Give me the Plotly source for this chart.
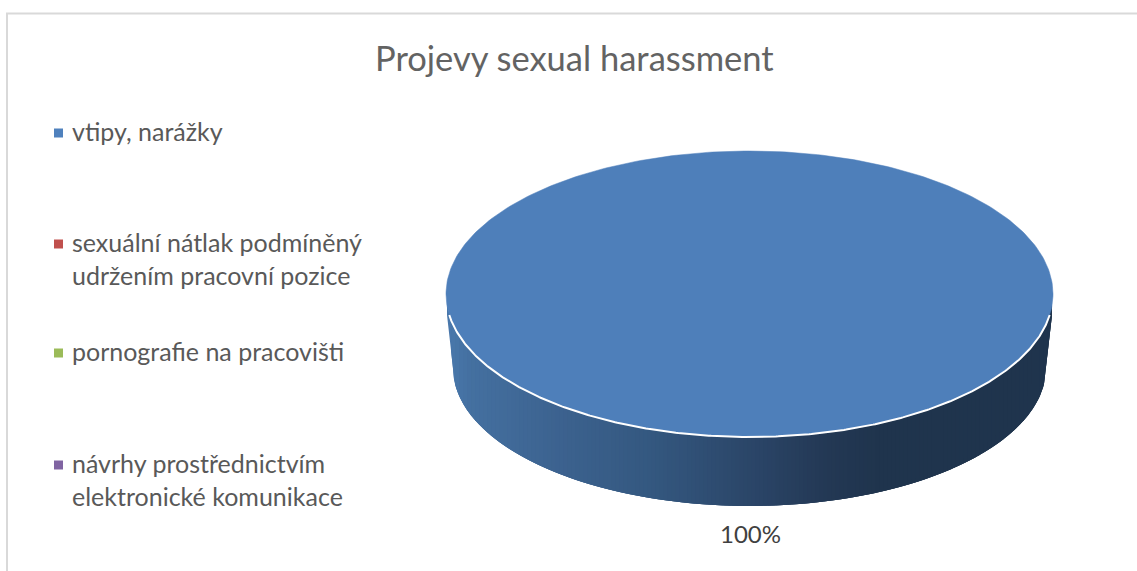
import numpy as np
import plotly.graph_objects as go

# Chart data
title = "Projevy sexual harassment"
categories = ["vtipy, narážky",
              "sexuální nátlak podmíněný<br>udržením pracovní pozice",
              "pornografie na pracovišti",
              "návrhy prostřednictvím<br>elektronické komunikace"]
values = [100, 0, 0, 0]
colors = ["#4e7fba", "#c0504d", "#9bbb59", "#8064a2"]

# Drawing geometry, in canvas pixels
W, H = 1137, 571
TOP = dict(cx=749.5, cy=294.0, rx=303.5, ry=143.0)
BASE = dict(cx=749.5, cy=368.0, rx=296.5, ry=138.0)
RIM_Y = 315.0
LEGEND_Y = [133, 244, 353, 465]
FONT = "Lato"

# Side wall shading: horizontal position -> colour
WALL_X = [447, 470, 560, 650, 760, 830, 880, 1053]
WALL_RGB = [(74, 120, 172), (68, 112, 160), (60, 98, 143), (52, 88, 128),
            (42, 68, 102), (35, 56, 84), (31, 52, 77), (31, 52, 77)]

total = sum(values)
shares = [v / total for v in values]


def ellipse_y(e, x):
    return e["cy"] + e["ry"] * np.sqrt(np.clip(1 - ((x - e["cx"]) / e["rx"]) ** 2, 0, 1))


def lower_edge(x):
    # Base outline, closing onto the rim with straight sides at both ends
    left, right = BASE["cx"] - BASE["rx"], BASE["cx"] + BASE["rx"]
    xl, xr = TOP["cx"] - TOP["rx"] + 1, TOP["cx"] + TOP["rx"] - 1
    if x < left:
        return RIM_Y + (BASE["cy"] - RIM_Y) * (x - xl) / (left - xl)
    if x > right:
        return RIM_Y + (BASE["cy"] - RIM_Y) * (xr - x) / (xr - right)
    return float(ellipse_y(BASE, x))


fig = go.Figure()

# Side wall of the disc: strips painted left to right, each one overlapping
# the start of the next so that no seams show between them
wall_left, wall_right = TOP["cx"] - TOP["rx"] + 1, TOP["cx"] + TOP["rx"] - 1
edges = np.linspace(wall_left, wall_right, 152)
for a, b in zip(edges[:-1], edges[1:]):
    rgb = [float(np.interp((a + b) / 2, WALL_X, [c[i] for c in WALL_RGB])) for i in range(3)]
    col = "rgb(%d,%d,%d)" % tuple(round(v) for v in rgb)
    # The strip runs a little past its own end; the following strip paints over that part
    xs = list(np.arange(a, min(b + 8, wall_right), 1.0)) + [min(b + 8, wall_right)]
    upper = [min(float(ellipse_y(TOP, x)), RIM_Y) - 2 for x in xs]
    lower = [lower_edge(x) for x in xs]
    fig.add_trace(go.Scatter(x=xs + xs[::-1], y=upper + lower[::-1], mode="lines", fill="toself",
                             fillcolor=col, line=dict(width=0), hoverinfo="skip", showlegend=False))

# Top face: one sector per category, swept according to its share
start = -np.pi / 2
for share, col in zip(shares, colors):
    if share <= 0:
        continue
    t = np.linspace(start, start + 2 * np.pi * share, 361)
    fig.add_trace(go.Scatter(x=TOP["cx"] + TOP["rx"] * np.cos(t), y=TOP["cy"] + TOP["ry"] * np.sin(t),
                             mode="lines", fill="toself", fillcolor=col,
                             line=dict(color=col, width=0.5), hoverinfo="skip", showlegend=False))
    start += 2 * np.pi * share

# White highlight along the front of the rim
s0 = np.arcsin((RIM_Y - TOP["cy"]) / TOP["ry"])
t = np.linspace(s0, np.pi - s0, 361)
fig.add_trace(go.Scatter(x=TOP["cx"] + TOP["rx"] * np.cos(t), y=TOP["cy"] + TOP["ry"] * np.sin(t),
                         mode="lines", line=dict(color="white", width=2),
                         hoverinfo="skip", showlegend=False))

# Legend keys
for y, col, name in zip(LEGEND_Y, ["#4f81bd", "#c0504d", "#9bbb59", "#8064a2"], categories):
    fig.add_trace(go.Scatter(x=[58.5], y=[y], mode="markers", name=name.replace("<br>", " "),
                             marker=dict(symbol="square", size=9, color=col), hoverinfo="name", showlegend=False))

annotations = [dict(x=71, y=y - 18.5, text=name, xref="x", yref="y", xanchor="left", yanchor="top",
                    align="left", showarrow=False, borderpad=0,
                    font=dict(family=FONT, size=25, color="#595959"))
               for y, name in zip(LEGEND_Y, categories)]

# Value label under the disc
annotations.append(dict(x=750, y=533, text=f"{shares[0]:.0%}", xref="x", yref="y", showarrow=False,
                        font=dict(family=FONT, size=24, color="#404040")))
# Title
annotations.append(dict(x=574.5, y=57, text=title, xref="x", yref="y", showarrow=False,
                        font=dict(family=FONT, size=34.5, color="#636363")))

fig.update_layout(
    width=W, height=H, margin=dict(l=0, r=0, t=0, b=0),
    paper_bgcolor="white", plot_bgcolor="white", showlegend=False,
    xaxis=dict(range=[0, W], visible=False, fixedrange=True),
    yaxis=dict(range=[H, 0], visible=False, fixedrange=True),
    annotations=annotations,
    shapes=[dict(type="rect", xref="x", yref="y", x0=7, y0=13.5, x1=W + 20, y1=H + 20,
                 line=dict(color="#d9d9d9", width=2), layer="below")],
)

fig.write_html("out.html", config=dict(displayModeBar=False))
